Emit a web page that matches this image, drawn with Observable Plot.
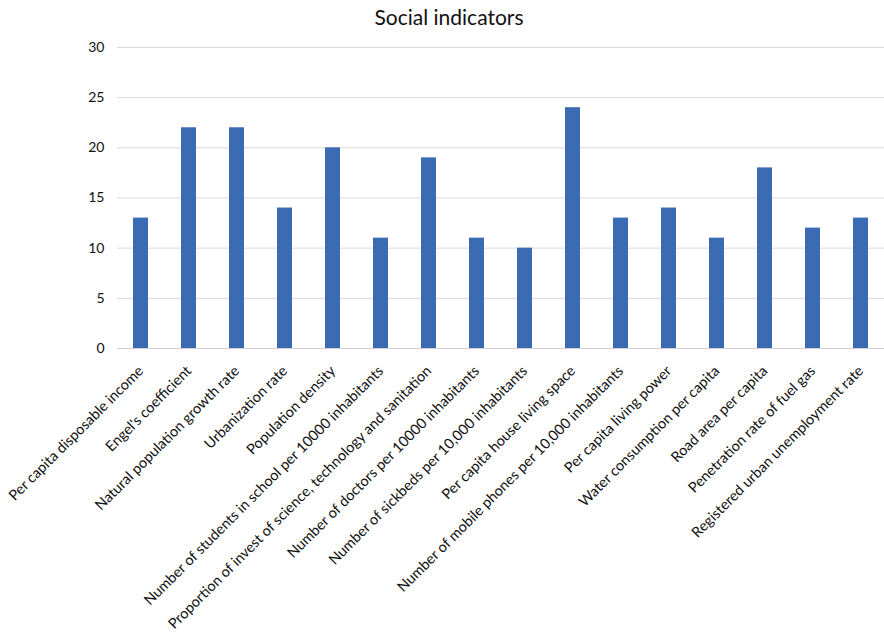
<!DOCTYPE html>
<html><head><meta charset="utf-8">
<script src="https://cdn.jsdelivr.net/npm/d3@7"></script>
<script src="https://cdn.jsdelivr.net/npm/@observablehq/plot@0.6"></script>
<style>
body{margin:0;background:#fff;font-family:Lato,"Open Sans",sans-serif;}
#title{height:34px;line-height:34px;text-align:center;font-size:21px;color:#111;width:870px;padding-left:14px;}
</style>
</head><body>
<div id="title">Social indicators</div>
<div id="chart"></div>
<script>
const categories = [
  "Per capita disposable income",
  "Engel's coefficient",
  "Natural population growth rate",
  "Urbanization rate",
  "Population density",
  "Number of students in school per 10000 inhabitants",
  "Proportion of invest of science, technology and sanitation",
  "Number of doctors per 10000 inhabitants",
  "Number of sickbeds per 10,000 inhabitants",
  "Per capita house living space",
  "Number of mobile phones per 10,000 inhabitants",
  "Per capita living power",
  "Water consumption per capita",
  "Road area per capita",
  "Penetration rate of fuel gas",
  "Registered urban unemployment rate"
];
const values = [13, 22, 22, 14, 20, 11, 19, 11, 10, 24, 13, 14, 11, 18, 12, 13];
const yTicks = [0, 5, 10, 15, 20, 25, 30];

const data = categories.map((c, i) => ({category: c, value: values[i]}));

const chart = Plot.plot({
  width: 884,
  height: 606,
  marginLeft: 117,
  marginRight: 0,
  marginTop: 13,
  marginBottom: 292,
  style: {fontFamily: "Lato, 'Open Sans', sans-serif", color: "#111", background: "#fff"},
  x: {domain: categories, paddingInner: 0.688, paddingOuter: 0.31, label: null},
  y: {domain: [0, 30], label: null},
  marks: [
    Plot.gridY(yTicks, {stroke: "#d9d9d9", strokeOpacity: 1}),
    Plot.barY(data, {x: "category", y: "value", fill: "#3b6bb2"}),
    Plot.ruleY([0], {stroke: "#d0d0d0"}),
    Plot.axisY(yTicks, {tickSize: 0, tickPadding: 13, fontSize: 14, label: null}),
    Plot.axisX({tickRotate: -45, tickSize: 0, tickPadding: 20, fontSize: 14.5, label: null})
  ]
});
document.getElementById("chart").appendChild(chart);
</script>
</body></html>
